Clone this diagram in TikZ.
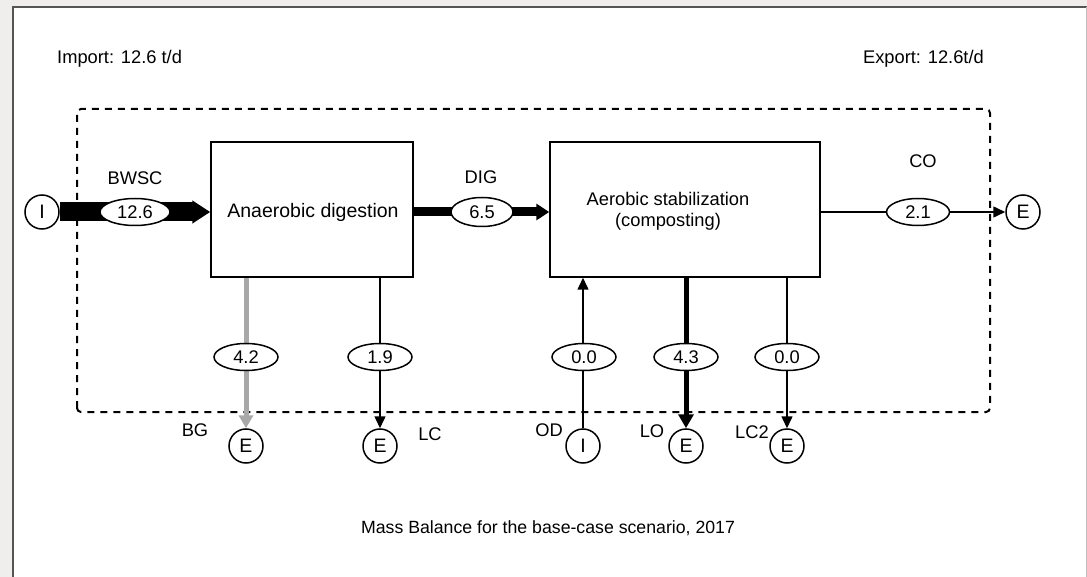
\documentclass[tikz,border=0pt]{standalone}
\usepackage{fontspec}
\setmainfont{Liberation Sans}
\usetikzlibrary{arrows.meta,shapes.geometric}
\definecolor{bgout}{HTML}{EFEEEC}
\definecolor{frame}{HTML}{555555}
\definecolor{bgflow}{HTML}{A8A8A8}
\newcommand{\fsz}{\fontsize{18.3}{21}\selectfont}
\newcommand{\fbx}{\fontsize{19.5}{23}\selectfont}
\newcommand{\fcap}{\fontsize{17.7}{21}\selectfont}
\tikzset{
  box/.style={draw, line width=1.5pt, fill=white, inner sep=0pt},
  port/.style={draw, circle, line width=1.5pt, minimum size=34pt, inner sep=0pt, fill=white, font=\fbx},
  val/.style={draw, ellipse, line width=1.5pt, minimum width=64pt, minimum height=27pt, inner sep=0pt, fill=white, font=\fsz},
  lbl/.style={font=\fsz, inner sep=0pt},
  thin/.style={line width=1.5pt, -{Triangle[length=12pt,width=11pt]}},
  sysbound/.style={line width=2pt, dash pattern=on 7pt off 6pt, rounded corners=4pt}
}
\begin{document}
\begin{tikzpicture}[x=1pt,y=-1pt]
\useasboundingbox (0,0) rectangle (1087,577);
\fill[bgout] (0,0) rectangle (1087,577);
\fill[white] (13,7) rectangle (1087,577);
\draw[frame, line width=2pt] (13,577) -- (13,7) -- (1087,7);
\draw[black!25, line width=1pt] (1086.5,7) -- (1086.5,577);

% top texts
\node[lbl, anchor=west] (imp) at (57,59) {Import: 12.6 t/d};
\node[lbl, anchor=east] (exp) at (984,59) {Export: 12.6t/d};
\node[lbl, font=\fcap] (cap) at (548,528) {Mass Balance for the base-case scenario, 2017};

% system boundary
\draw[sysbound] (77,412) -- (77,109) -- (990,109) -- (990,412) -- cycle;

% boxes
\node[box, minimum width=202pt, minimum height=135pt] (ad) at (312,209.5) {};
\node[lbl, font=\fbx] (adt) at (313,212) {Anaerobic digestion};
\node[box, minimum width=270pt, minimum height=135pt] (ab) at (685,209.5) {};
\node[lbl, font=\fsz, align=center] (abt) at (668,211) {Aerobic stabilization\\(composting)};

% ports
\node[port] (i0) at (42,212) {I};
\node[port] (e0) at (1023,212) {E};
\node[port] (e1) at (246,446) {E};
\node[port] (e2) at (380,446) {E};
\node[port] (i1) at (583,446) {I};
\node[port] (e3) at (686,446) {E};
\node[port] (e4) at (787,446) {E};

% flows
\draw[line width=19pt, -{Triangle[length=18pt,width=22pt]}] (i0.east) -- (i0.east -| ad.west);
\draw[line width=9pt, -{Triangle[length=13pt,width=16pt]}] (ad.east |- i0) -- (ab.west |- i0);
\draw[thin] (ab.east |- i0) -- (e0.west);
\draw[bgflow, line width=5pt, -{Triangle[length=13pt,width=14pt]}] (ad.south -| e1) -- (e1.north);
\draw[thin] (ad.south -| e2) -- (e2.north);
\draw[thin] (i1.north) -- (i1.north |- ab.south);
\draw[line width=5pt, -{Triangle[length=14pt,width=15pt]}] (ab.south -| e3) -- (e3.north);
\draw[thin] (ab.south -| e4) -- (e4.north);

% values
\node[val, minimum width=70pt] (v1) at (135,212) {12.6};
\node[val, minimum width=62pt, minimum height=29pt] (v2) at (482,212) {6.5};
\node[val, minimum width=63pt] (v3) at (918,212) {2.1};
\node[val] (v4) at (246,357) {4.2};
\node[val] (v5) at (380,357) {1.9};
\node[val] (v6) at (584,357) {0.0};
\node[val] (v7) at (686,357) {4.3};
\node[val] (v8) at (787,357) {0.0};

% labels
\node[lbl] (lbwsc) at (135,178) {BWSC};
\node[lbl] (ldig) at (481,177) {DIG};
\node[lbl] (lco) at (923,161) {CO};
\node[lbl] (lbg) at (195,430) {BG};
\node[lbl] (llc) at (430,434) {LC};
\node[lbl] (lod) at (549,430) {OD};
\node[lbl] (llo) at (652,431) {LO};
\node[lbl] (llc2) at (752,432) {LC2};
\end{tikzpicture}
\end{document}
